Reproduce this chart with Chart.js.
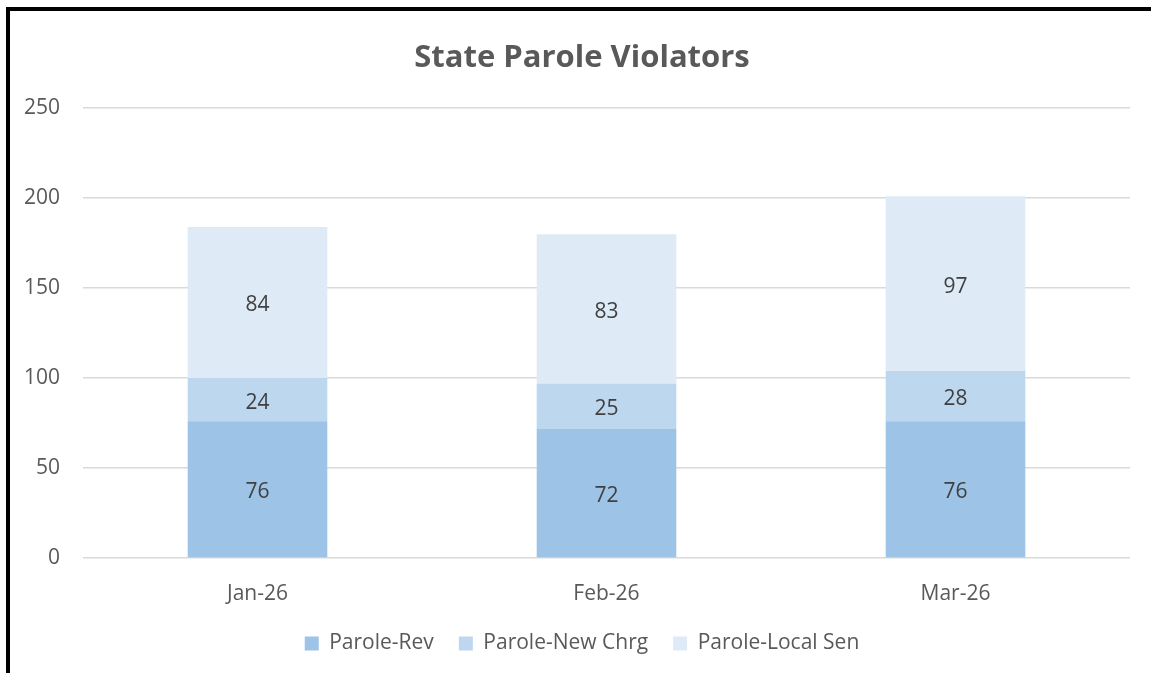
<!DOCTYPE html>
<html><head><meta charset="utf-8">
<script src="https://cdn.jsdelivr.net/npm/chart.js@4/dist/chart.umd.min.js"></script>
<style>
html,body{margin:0;padding:0;background:#fff;}
#wrap{position:relative;width:1151px;height:673px;}
#frame{position:absolute;left:6px;top:7px;width:1145px;height:666px;border-top:4px solid #000;border-left:4px solid #000;box-sizing:border-box;pointer-events:none;}
canvas{position:absolute;left:0;top:0;}
</style></head>
<body><div id="wrap"><canvas id="c" width="1151" height="673"></canvas><div id="frame"></div></div>
<script>
const categories = ["Jan-26", "Feb-26", "Mar-26"];
const paroleRev = [76, 72, 76];
const paroleNewChrg = [24, 25, 28];
const paroleLocalSen = [84, 83, 97];
const seriesNames = ["Parole-Rev", "Parole-New Chrg", "Parole-Local Sen"];
const seriesColors = ["#9DC3E6", "#BDD7EE", "#DEEBF7"];
const yTicks = [0, 50, 100, 150, 200, 250];

const FONT = "'Open Sans', sans-serif";
const textColor = "#595959";

const labelPlugin = {
  id: 'segLabels',
  afterDatasetsDraw(chart) {
    const ctx = chart.ctx;
    ctx.save();
    ctx.font = "21px " + FONT;
    ctx.fillStyle = "#404040";
    ctx.textAlign = "center";
    ctx.textBaseline = "middle";
    chart.data.datasets.forEach((ds, i) => {
      const meta = chart.getDatasetMeta(i);
      meta.data.forEach((bar, j) => {
        const y = (bar.y + bar.base) / 2 + 3;
        ctx.fillText(String(ds.data[j]), bar.x, y);
      });
    });
    ctx.restore();
  }
};

new Chart(document.getElementById('c'), {
  type: 'bar',
  data: {
    labels: categories,
    datasets: [
      {label: seriesNames[0], data: paroleRev, backgroundColor: seriesColors[0]},
      {label: seriesNames[1], data: paroleNewChrg, backgroundColor: seriesColors[1]},
      {label: seriesNames[2], data: paroleLocalSen, backgroundColor: seriesColors[2]}
    ]
  },
  options: {
    responsive: false,
    animation: false,
    devicePixelRatio: 1,
    layout: {padding: {left: 17, right: 4, top: 0, bottom: 9}},
    datasets: {bar: {barPercentage: 0.8, categoryPercentage: 0.5, borderWidth: 0}},
    plugins: {
      title: {display: true, text: "State Parole Violators", color: textColor,
        font: {family: FONT, size: 31, weight: 'bold'}, padding: {top: 40, bottom: 31}},
      legend: {position: 'bottom',
        labels: {color: textColor, font: {family: FONT, size: 21}, boxWidth: 14, boxHeight: 14, padding: 25}},
      tooltip: {enabled: false}
    },
    scales: {
      x: {stacked: true,
        grid: {display: false, drawTicks: false},
        border: {display: false},
        ticks: {color: textColor, font: {family: FONT, size: 21}, padding: 23},
        afterFit(s) { s.height = 50; }
      },
      y: {stacked: true, min: 0, max: 250,
        afterBuildTicks(s) { s.ticks = yTicks.map(v => ({value: v})); },
        grid: {color: "#D9D9D9", lineWidth: 1.5, drawTicks: false},
        border: {display: false},
        ticks: {color: textColor, font: {family: FONT, size: 21}, padding: 23},
        afterFit(s) { s.width = 66; }
      },
      yRight: {position: 'right', min: 0, max: 250,
        grid: {display: false, drawTicks: false},
        border: {display: false},
        ticks: {display: false},
        afterFit(s) { s.width = 17; }
      }
    }
  },
  plugins: [labelPlugin]
});
</script>
</body></html>
